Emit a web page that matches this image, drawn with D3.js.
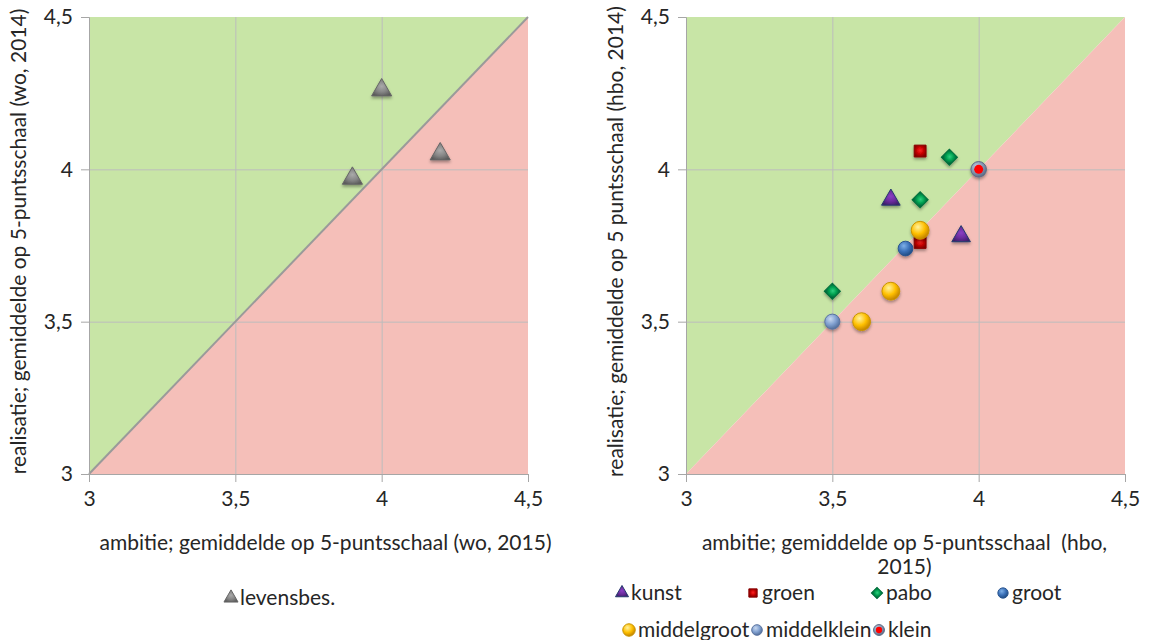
<!DOCTYPE html>
<html lang="nl">
<head>
<meta charset="UTF-8" />
<script src="https://d3js.org/d3.v7.min.js"></script>
<title>ambitie vs realisatie</title>
<style>
  body { margin: 0; background: #fff; }
  text { font-family: Lato, "Open Sans", sans-serif; fill: #262626; white-space: pre; }
</style>
</head>
<body>
<svg id="chart" width="1149" height="640"></svg>
<script>
// axis ticks shared by both panels
const tickValues = [3, 3.5, 4, 4.5];

// wo panel: [ambitie 2015, realisatie 2014]
const woLevensbes = [[3.9, 3.97], [4.0, 4.26], [4.2, 4.05]];

// hbo panel
const hboKunst = [[3.7, 3.9], [3.94, 3.78]];
const hboGroen = [[3.8, 4.06], [3.8, 3.76]];
const hboPabo = [[3.9, 4.04], [3.8, 3.9], [3.5, 3.6]];
const hboGroot = [[3.75, 3.74]];
const hboMiddelgroot = [[3.8, 3.8], [3.7, 3.6], [3.6, 3.5]];
const hboMiddelklein = [[3.5, 3.5]];
const hboKlein = [[4.0, 4.0]];

const svg = d3.select('#chart');
const defs = svg.append('defs');

const fmt = d => String(d).replace('.', ',');
const fontSize = 21;

// 3D-ish gradients like the Excel markers
const addGrad = (id, light, base, dark, sphere) => {
  const g = defs.append('radialGradient').attr('id', id)
    .attr('cx', sphere ? '38%' : '50%').attr('cy', sphere ? '32%' : '45%')
    .attr('r', sphere ? '70%' : '60%');
  g.append('stop').attr('offset', '0%').attr('stop-color', light);
  g.append('stop').attr('offset', '55%').attr('stop-color', base);
  g.append('stop').attr('offset', '100%').attr('stop-color', dark);
};
addGrad('gGrey', '#aaaaaa', '#858585', '#5a5a5a', false);
addGrad('gKunst', '#8a3fc4', '#6a2c9c', '#3c1f6a', false);
addGrad('gGroen', '#ff2020', '#c00000', '#7a0000', false);
addGrad('gPabo', '#30d080', '#00a050', '#00653a', false);
addGrad('gGroot', '#7eb0e8', '#3a70b8', '#1f4a80', true);
addGrad('gMiddelgroot', '#fff2a0', '#ffc000', '#c08000', true);
addGrad('gMiddelklein', '#c8d8f0', '#7f9fcf', '#506c98', true);
addGrad('gKleinRing', '#c0cce0', '#8797b2', '#5c6a84', true);

const shadow = defs.append('filter').attr('id', 'shadow')
  .attr('x', '-50%').attr('y', '-50%').attr('width', '200%').attr('height', '200%');
shadow.append('feDropShadow').attr('dx', 0).attr('dy', 2).attr('stdDeviation', 1.5)
  .attr('flood-color', '#000').attr('flood-opacity', 0.35);

const styles = {
  levensbes: { type: d3.symbolTriangle, size: 175, fill: 'url(#gGrey)', stroke: '#666' },
  kunst: { type: d3.symbolTriangle, size: 150, fill: 'url(#gKunst)', stroke: '#253a6e' },
  groen: { type: d3.symbolSquare, size: 140, fill: 'url(#gGroen)', stroke: '#8a0000' },
  pabo: { type: d3.symbolSquare, size: 130, rotate: 45, fill: 'url(#gPabo)', stroke: '#00703c' },
  groot: { type: d3.symbolCircle, size: 170, fill: 'url(#gGroot)', stroke: '#2a5590' },
  middelgroot: { type: d3.symbolCircle, size: 250, fill: 'url(#gMiddelgroot)', stroke: '#c99400' },
  middelklein: { type: d3.symbolCircle, size: 180, fill: 'url(#gMiddelklein)', stroke: '#5b74a0' },
  klein: { type: d3.symbolCircle, size: 190, fill: 'url(#gKleinRing)', stroke: '#5c6a84', dot: '#ff0000' }
};

const drawMarker = (sel, st, scale) => {
  const k = scale || 1;
  sel.append('path')
    .attr('d', d3.symbol().type(st.type).size(st.size * k * k)())
    .attr('transform', st.rotate ? `rotate(${st.rotate})` : null)
    .attr('fill', st.fill).attr('stroke', st.stroke).attr('stroke-width', 1);
  if (st.dot) {
    sel.append('circle').attr('r', 4.5 * k).attr('fill', st.dot);
  }
};

const panel = (left, yTitle, xTitleLines, xTitleShift, series, diagonalLine) => {
  const top = 17, width = 439, height = 457;
  const x = d3.scaleLinear().domain([3, 4.5]).range([0, width]);
  const y = d3.scaleLinear().domain([3, 4.5]).range([height, 0]);
  const g = svg.append('g').attr('transform', `translate(${left},${top})`);

  // green = realisatie above ambitie, red = below
  g.append('path')
    .attr('d', d3.line()([[x(3), y(3)], [x(3), y(4.5)], [x(4.5), y(4.5)]]) + 'Z')
    .attr('fill', '#c8e5a6');
  g.append('path')
    .attr('d', d3.line()([[x(3), y(3)], [x(4.5), y(3)], [x(4.5), y(4.5)]]) + 'Z')
    .attr('fill', '#f5bfb9');

  // gridlines
  g.append('g').call(d3.axisBottom(x).tickValues([3.5, 4]).tickSize(-height).tickFormat(''))
    .attr('transform', `translate(0,${height})`)
    .call(a => a.select('.domain').remove())
    .selectAll('line').attr('stroke', '#bdbdbd');
  g.append('g').call(d3.axisLeft(y).tickValues([3.5, 4]).tickSize(-width).tickFormat(''))
    .call(a => a.select('.domain').remove())
    .selectAll('line').attr('stroke', '#bdbdbd');

  if (diagonalLine) {
    g.append('line')
      .attr('x1', x(3)).attr('y1', y(3)).attr('x2', x(4.5)).attr('y2', y(4.5))
      .attr('stroke', '#9a9a9a').attr('stroke-width', 2);
  }

  // axes
  const xAxisG = g.append('g').attr('transform', `translate(0,${height})`)
    .call(d3.axisBottom(x).tickValues(tickValues).tickFormat(fmt).tickSizeOuter(0).tickSize(8).tickPadding(9));
  const yAxisG = g.append('g')
    .call(d3.axisLeft(y).tickValues(tickValues).tickFormat(fmt).tickSizeOuter(0).tickSize(8).tickPadding(8));
  [xAxisG, yAxisG].forEach(a => {
    a.select('.domain').attr('stroke', '#a6a6a6');
    a.selectAll('.tick line').attr('stroke', '#a6a6a6');
    a.selectAll('.tick text').attr('font-size', fontSize).attr('fill', '#404040')
      .style('font-family', 'Lato, sans-serif');
  });

  // axis titles
  yAxisG.append('text')
    .attr('transform', 'rotate(-90)')
    .attr('x', -height / 2 + 4).attr('y', -63)
    .attr('text-anchor', 'middle').attr('font-size', fontSize).attr('fill', '#262626')
    .text(yTitle);
  xTitleLines.forEach((t, i) => {
    xAxisG.append('text')
      .attr('x', width / 2 + xTitleShift).attr('y', 76 + i * 24)
      .attr('text-anchor', 'middle').attr('font-size', fontSize).attr('fill', '#262626')
      .text(t);
  });

  // points
  series.forEach(s => {
    g.append('g').selectAll('g').data(s.data).enter().append('g')
      .attr('transform', d => `translate(${x(d[0])},${y(d[1])})`)
      .attr('filter', 'url(#shadow)')
      .each(function () { drawMarker(d3.select(this), styles[s.key]); });
  });
};

panel(89, 'realisatie; gemiddelde op 5-puntsschaal (wo, 2014)',
  ['ambitie; gemiddelde op 5-puntsschaal (wo, 2015)'], 17,
  [{ key: 'levensbes', data: woLevensbes }], true);

panel(686, 'realisatie; gemiddelde op 5 puntsschaal (hbo, 2014)',
  ['ambitie; gemiddelde op 5-puntsschaal  (hbo,', '2015)'], -1,
  [
    { key: 'kunst', data: hboKunst },
    { key: 'groen', data: hboGroen },
    { key: 'pabo', data: hboPabo },
    { key: 'groot', data: hboGroot },
    { key: 'middelgroot', data: hboMiddelgroot },
    { key: 'middelklein', data: hboMiddelklein },
    { key: 'klein', data: hboKlein }
  ], false);

// legends
const legendItems = [
  { key: 'levensbes', label: 'levensbes.', x: 231, y: 598 },
  { key: 'kunst', label: 'kunst', x: 622, y: 593 },
  { key: 'groen', label: 'groen', x: 753, y: 593 },
  { key: 'pabo', label: 'pabo', x: 877, y: 593 },
  { key: 'groot', label: 'groot', x: 1003, y: 593 },
  { key: 'middelgroot', label: 'middelgroot', x: 629, y: 630 },
  { key: 'middelklein', label: 'middelklein', x: 757, y: 630 },
  { key: 'klein', label: 'klein', x: 879, y: 630 }
];
const lg = svg.append('g').selectAll('g').data(legendItems).enter().append('g')
  .attr('transform', d => `translate(${d.x},${d.y})`);
lg.each(function (d) { drawMarker(d3.select(this), styles[d.key], 0.7); });
lg.append('text').attr('x', 9).attr('y', 6.5)
  .attr('font-size', fontSize).attr('fill', '#262626')
  .text(d => d.label);
</script>
</body>
</html>
